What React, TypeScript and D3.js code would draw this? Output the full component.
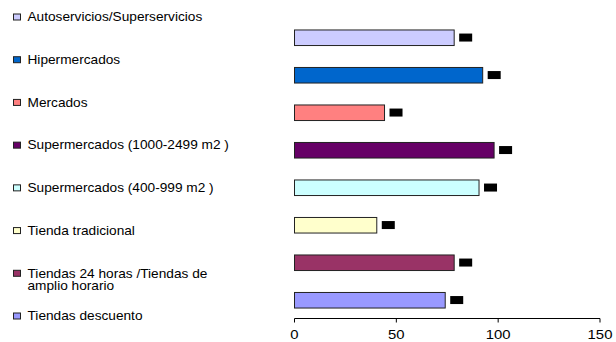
import React from "react";
import * as d3 from "d3";

// Store formats and their index values
const categories = [
  "Autoservicios/Superservicios",
  "Hipermercados",
  "Mercados",
  "Supermercados (1000-2499 m2 )",
  "Supermercados (400-999 m2 )",
  "Tienda tradicional",
  "Tiendas 24 horas /Tiendas de amplio horario",
  "Tiendas descuento",
];
const legendLines = [
  ["Autoservicios/Superservicios"],
  ["Hipermercados"],
  ["Mercados"],
  ["Supermercados (1000-2499 m2 )"],
  ["Supermercados (400-999 m2 )"],
  ["Tienda tradicional"],
  ["Tiendas 24 horas /Tiendas de", "amplio horario"],
  ["Tiendas descuento"],
];
const values = [78.4, 92.4, 44.2, 98, 90.6, 40.4, 78.4, 74];
const colors = [
  "#CCCCFF",
  "#0066CC",
  "#FF8080",
  "#660066",
  "#CCFFFF",
  "#FFFFCC",
  "#993366",
  "#9999FF",
];
const xTicks = [0, 50, 100, 150];

const W = 616;
const H = 342;
const textStyle = { fontFamily: "Liberation Sans, Arial, sans-serif" };
// text is drawn slightly widened horizontally
const LEGEND_SX = 1.14;
const TICK_SX = 1.24;

export default function App() {
  const x = d3.scaleLinear().domain([0, 150]).range([294.5, 600]);
  const y = d3
    .scaleBand<string>()
    .domain(categories)
    .range([19, 319])
    .paddingInner(0.585)
    .paddingOuter(0.2925);
  const ly = d3.scalePoint<string>().domain(categories).range([17, 316]);
  const axisY = 318.5;

  return (
    <svg
      width={W}
      height={H}
      style={{ position: "absolute", left: 0, top: 0, background: "#fff" }}
    >
      {/* bars */}
      {categories.map((c, i) => {
        const y0 = y(c)!;
        const bw = y.bandwidth();
        const xe = x(values[i]);
        return (
          <g key={c}>
            <rect
              x={x(0)}
              y={y0}
              width={xe - x(0)}
              height={bw}
              fill={colors[i]}
              stroke="#222"
              strokeWidth={1}
            />
            {/* value tag */}
            <rect x={xe + 5} y={y0 + bw / 2 - 4.2} width={13} height={8} fill="#000" />
          </g>
        );
      })}

      {/* x axis */}
      <line x1={x(0)} x2={x(150)} y1={axisY} y2={axisY} stroke="#000" strokeWidth={1} />
      {xTicks.map((t) => (
        <g key={t}>
          <line x1={x(t)} x2={x(t)} y1={axisY} y2={axisY + 4} stroke="#000" strokeWidth={1} />
          <text
            transform={`translate(${x(t)},${339}) scale(${TICK_SX},1)`}
            textAnchor="middle"
            fontSize={12}
            fill="#000"
            style={textStyle}
          >
            {t}
          </text>
        </g>
      ))}

      {/* legend */}
      {categories.map((c, i) => {
        const cy = ly(c)!;
        return (
          <g key={"lg" + c}>
            <rect
              x={13.5}
              y={cy - 3}
              width={7}
              height={6}
              fill={colors[i]}
              stroke="#222"
              strokeWidth={1}
            />
            <text
              transform={`translate(27.5,${cy + 4.3}) scale(${LEGEND_SX},1)`}
              fontSize={12}
              fill="#000"
              style={textStyle}
            >
              {legendLines[i].map((ln, j) => (
                <tspan key={j} x={0} dy={j === 0 ? 0 : 12.5}>
                  {ln}
                </tspan>
              ))}
            </text>
          </g>
        );
      })}
    </svg>
  );
}
